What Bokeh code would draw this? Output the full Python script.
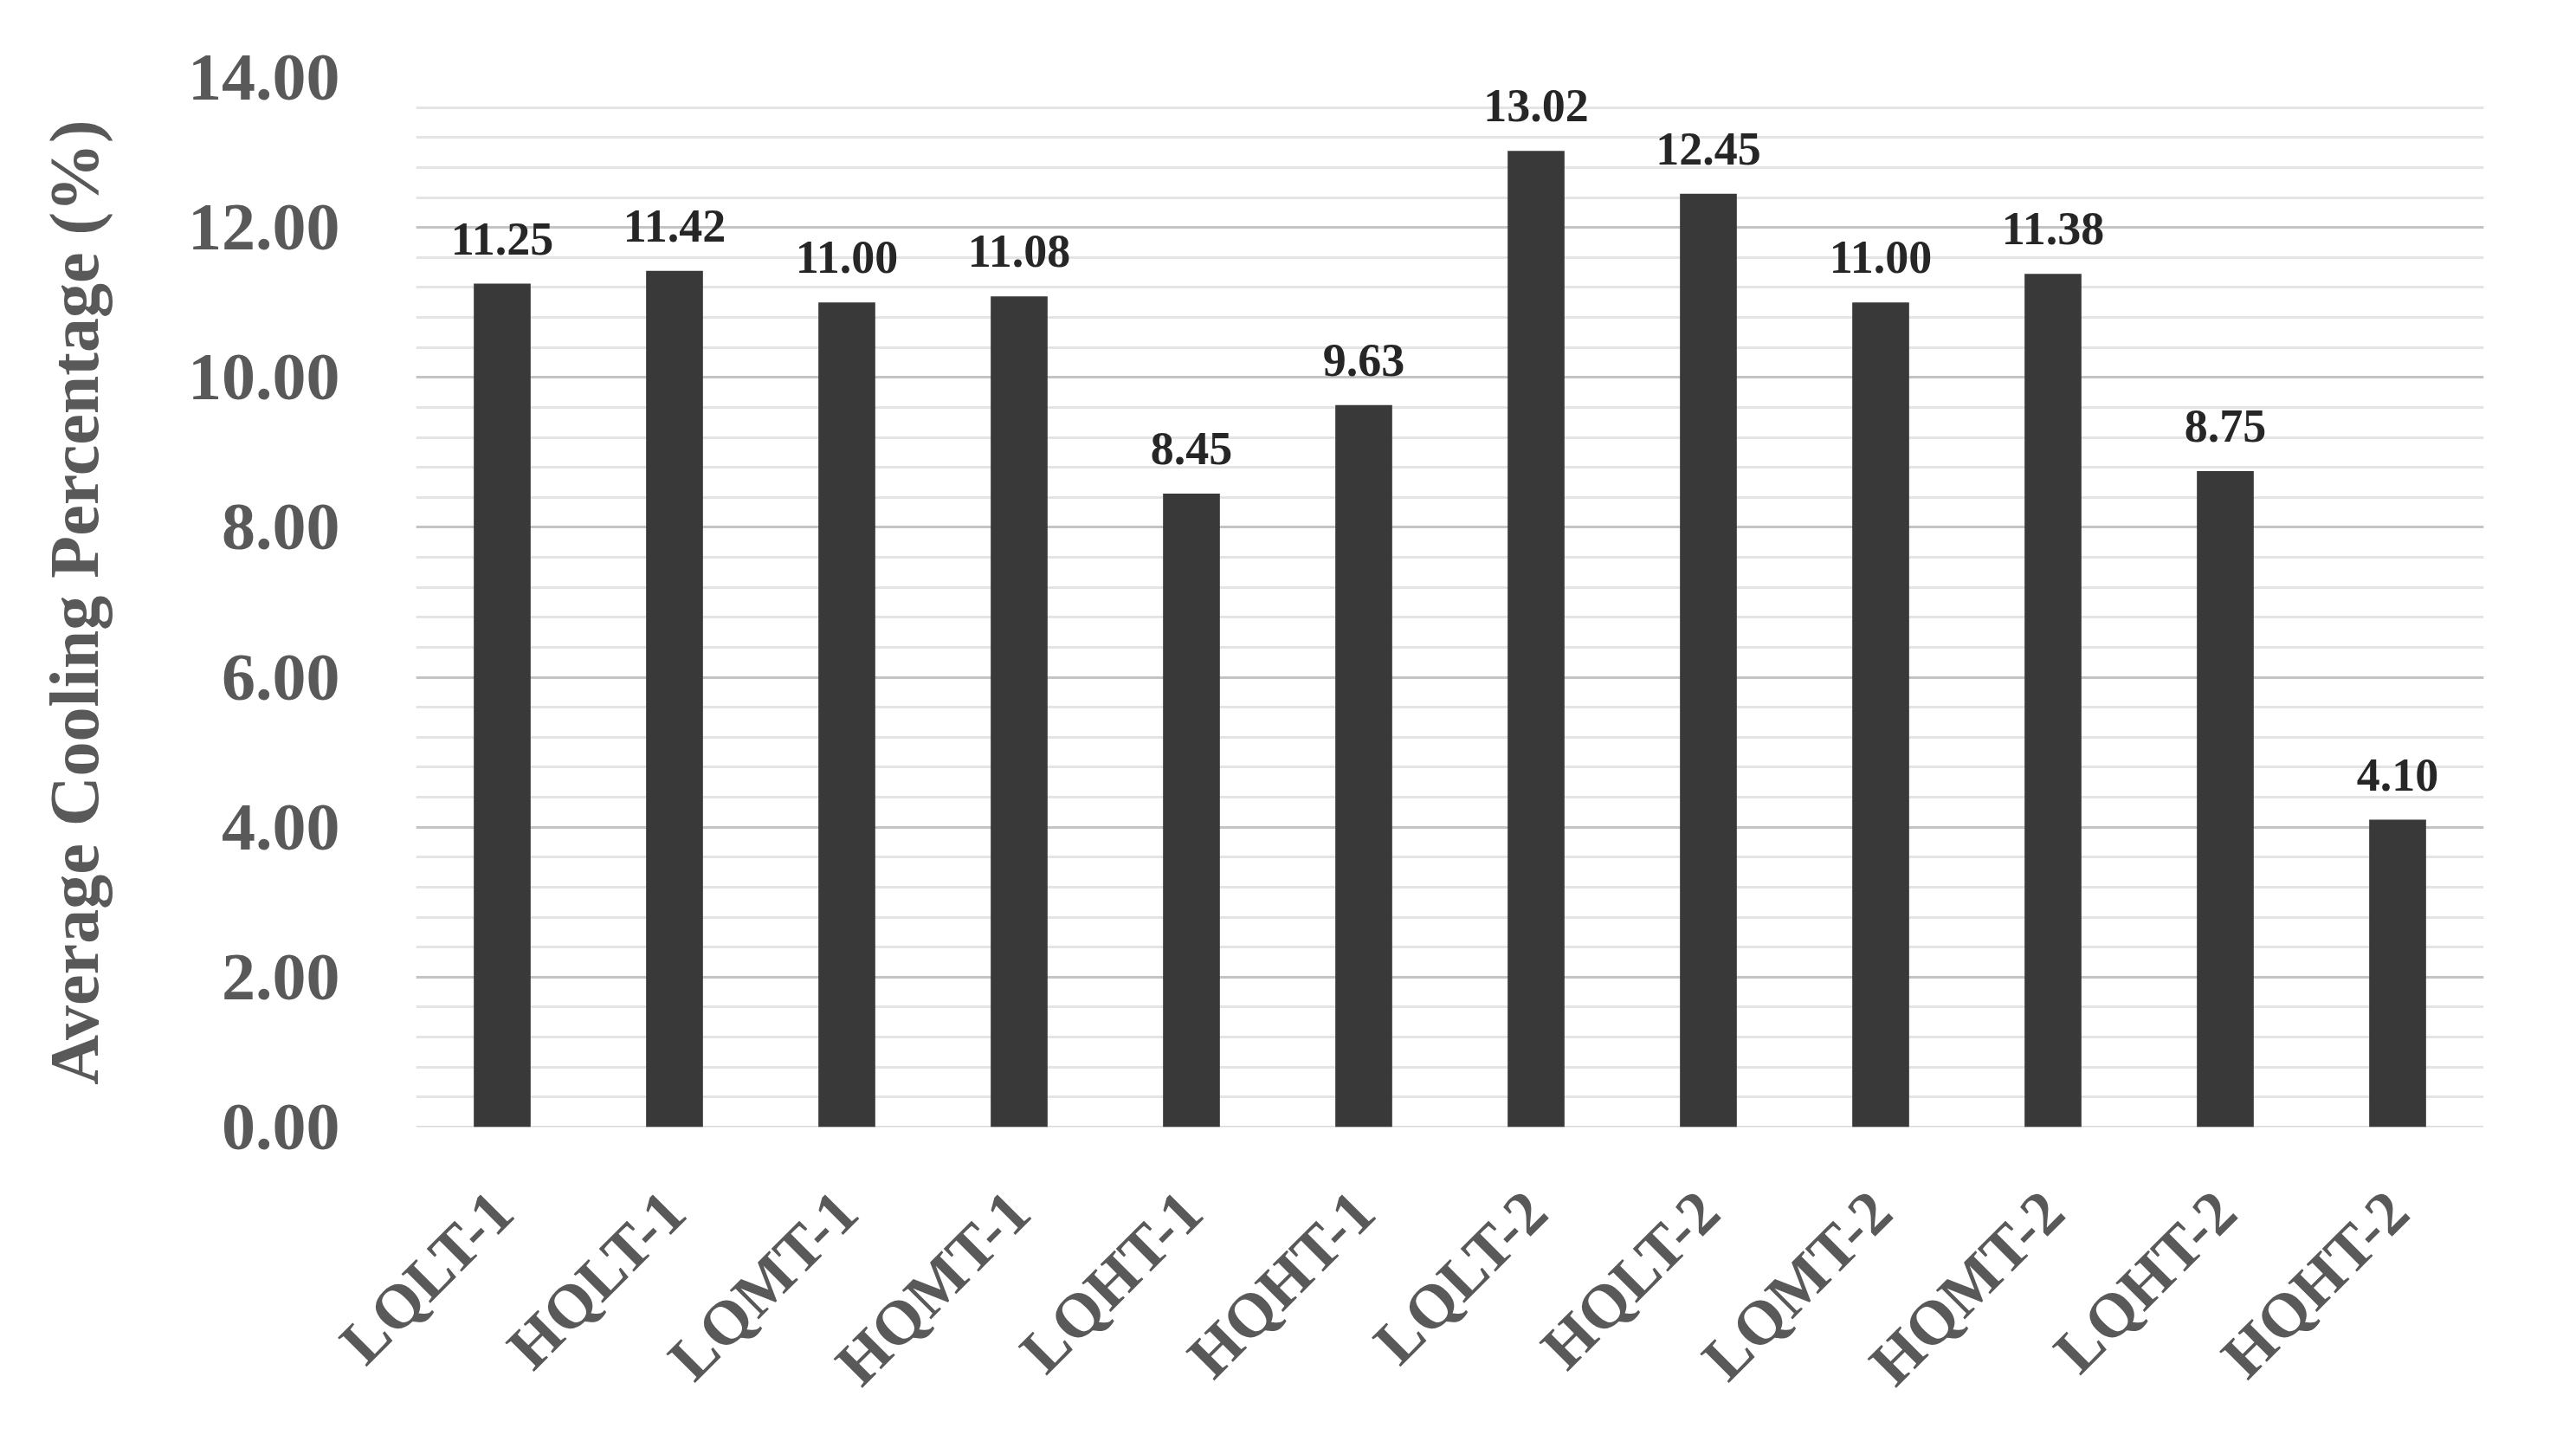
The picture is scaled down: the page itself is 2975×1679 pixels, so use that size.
import math
from bokeh.plotting import figure
from bokeh.models import (ColumnDataSource, FactorRange, Range1d, SingleIntervalTicker,
                          NumeralTickFormatter, LabelSet, Span)
from bokeh.embed import file_html
from bokeh.resources import INLINE

categories = ["LQLT-1", "HQLT-1", "LQMT-1", "HQMT-1", "LQHT-1", "HQHT-1",
              "LQLT-2", "HQLT-2", "LQMT-2", "HQMT-2", "LQHT-2", "HQHT-2"]
cooling = [11.25, 11.42, 11.00, 11.08, 8.45, 9.63,
           13.02, 12.45, 11.00, 11.38, 8.75, 4.10]
labels = [f"{v:.2f}" for v in cooling]
y_title = "Average Cooling Percentage (%)"

FONT = "Liberation Serif"
GRAY = "#595959"

src = ColumnDataSource(dict(cat=categories, val=cooling, lab=labels))

p = figure(x_range=FactorRange(*categories), y_range=Range1d(0, 14),
           width=2959, height=1663, frame_width=2388, frame_height=1212,
           min_border_left=480, min_border_right=91, min_border_top=89, min_border_bottom=362,
           output_backend="svg", toolbar_location=None)
p.outline_line_color = None
p.background_fill_color = "white"

p.vbar(x="cat", top="val", width=0.33, source=src, fill_color="#393939", line_color=None)

# grid
p.xgrid.grid_line_color = None
p.yaxis.ticker = SingleIntervalTicker(interval=2, num_minor_ticks=5)
p.ygrid.grid_line_color = "#c4c4c4"
p.ygrid.grid_line_width = 3
p.ygrid.minor_grid_line_color = "#e4e4e4"
p.ygrid.minor_grid_line_width = 3
p.ygrid.level = "underlay"
p.add_layout(Span(location=0, dimension="width", line_color="#d9d9d9", line_width=3, level="underlay"))

# y axis
yax = p.yaxis[0]
yax.formatter = NumeralTickFormatter(format="0.00")
yax.axis_line_color = None
yax.major_tick_line_color = None
yax.minor_tick_line_color = None
yax.major_tick_out = 0
yax.minor_tick_out = 0
yax.major_label_text_font = FONT
yax.major_label_text_font_style = "bold"
yax.major_label_text_font_size = "78px"
yax.major_label_text_color = GRAY
yax.major_label_standoff = 88
yax.axis_label = y_title
yax.axis_label_text_font = FONT
yax.axis_label_text_font_style = "bold"
yax.axis_label_text_font_size = "80px"
yax.axis_label_text_color = GRAY
yax.axis_label_standoff = 84

# x axis
xax = p.xaxis[0]
xax.axis_line_color = None
xax.major_tick_line_color = None
xax.minor_tick_line_color = None
xax.major_tick_out = 0
xax.minor_tick_out = 0
xax.major_label_orientation = math.pi / 4
xax.major_label_text_font = FONT
xax.major_label_text_font_style = "bold"
xax.major_label_text_font_size = "72px"
xax.major_label_text_color = GRAY
xax.major_label_standoff = 86

# data labels
lbl = LabelSet(x="cat", y="val", text="lab", source=src, text_align="center",
               text_baseline="alphabetic", y_offset=34,
               text_font=FONT, text_font_style="bold", text_font_size="54px",
               text_color="#262626")
p.add_layout(lbl)

open("out.html", "w").write(file_html(p, INLINE))
